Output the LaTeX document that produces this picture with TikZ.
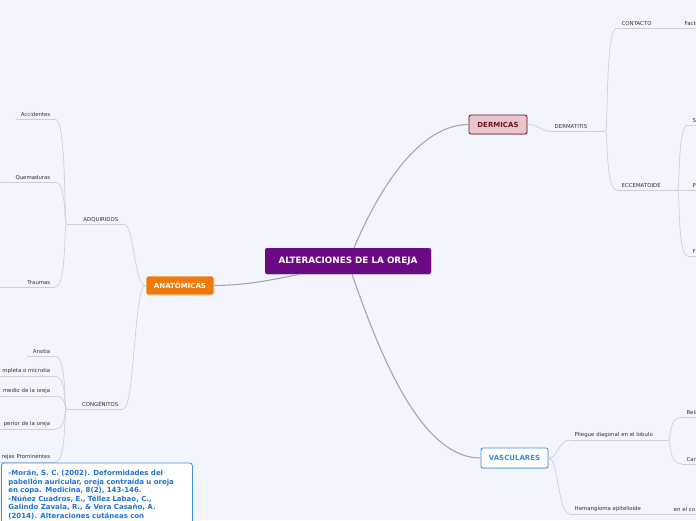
\documentclass[tikz,border=0pt]{standalone}
\usepackage{fontspec}
\setmainfont{DejaVu Sans}
\usetikzlibrary{shadows, positioning}

\definecolor{bgcol}{HTML}{F2F5FD}
\definecolor{purp}{HTML}{6B0A84}
\definecolor{orng}{HTML}{EE7A0E}
\definecolor{rosa}{HTML}{E8C6CC}
\definecolor{vino}{HTML}{6E1423}
\definecolor{azul}{HTML}{3A8DE3}
\definecolor{azultxt}{HTML}{1F72D3}
\definecolor{maingray}{HTML}{A4A6AE}
\definecolor{subgray}{HTML}{CBCFD8}
\definecolor{labtext}{HTML}{333338}

\begin{document}
\begin{tikzpicture}[x=1pt, y=-1pt,
    topic/.style={rounded corners=2pt, font=\bfseries\fontsize{7}{8}\selectfont,
        minimum height=19pt, inner sep=0pt,
        drop shadow={shadow xshift=0.5pt, shadow yshift=-0.8pt, opacity=0.25}},
    main/.style={draw=maingray, line width=1.1pt},
    link/.style={draw=subgray, line width=0.7pt},
    uline/.style={draw=subgray, line width=0.7pt},
    subL/.style={anchor=south west, align=left, text=labtext,
        font=\fontsize{5.4}{6}\selectfont, inner xsep=4.5pt, inner ysep=2pt,
        append after command={(\tikzlastnode.south west) edge[uline] (\tikzlastnode.south east)}},
    subR/.style={subL, anchor=south east, align=right},
    refbox/.style={draw=azul, line width=0.8pt, fill=white, rounded corners=3pt,
        anchor=north west, align=left, text=azultxt, inner xsep=7pt, inner ysep=7pt,
        text width=177pt, font=\bfseries\fontsize{7}{8.6}\selectfont}
]
    \useasboundingbox (0,0) rectangle (696,520);
    \fill[bgcol] (0,0) rectangle (696,520);
    \clip (0,0) rectangle (696,520);

    % Central topic and main branches
    \node[topic, fill=purp, text=white, font=\bfseries\fontsize{8.8}{10}\selectfont,
        minimum width=166pt, minimum height=26pt] (root) at (348,261) {ALTERACIONES DE LA OREJA};
    \node[topic, fill=orng, draw=white, line width=0.8pt, text=white, minimum width=68pt] (anat) at (180,285.5) {ANATÓMICAS};
    \node[topic, fill=rosa, draw=vino, line width=0.8pt, text=vino, minimum width=58pt] (dermicas) at (498,124.5) {DERMICAS};
    \node[topic, fill=white, draw=azul, line width=0.8pt, text=azul, minimum width=67pt, minimum height=20pt] (vasc) at (514.5,458) {VASCULARES};

    \draw[main] ([xshift=6pt]root.north) .. controls (385,175) and (425,124.5) .. (dermicas.west);
    \draw[main] ([xshift=4pt]root.south) .. controls (385,370) and (425,458) .. (vasc.west);
    \draw[main] (anat.east) .. controls (250,285) and (270,280) .. ([xshift=-48pt]root.south);

    % Dermicas
    \node[subL, text width=46pt] (dermat) at (550,131) {DERMATITIS};
    \node[subL, text width=54pt] (contacto) at (617,28) {CONTACTO};
    \node[subL, text width=20pt] (factores) at (680,28) {Facto};
    \node[subL, text width=51pt] (eccema) at (617,190) {ECCEMATOIDE};
    \node[subL, text width=20pt] (eccS) at (688,125) {S};
    \node[subL, text width=20pt] (eccP) at (688,190) {P};
    \node[subL, text width=20pt] (eccF) at (688,256) {F};

    \draw[link] (dermicas.east) .. controls +(12,0) and +(-10,0) .. (dermat.south west);
    \foreach \c in {contacto,eccema}
        \draw[link] (dermat.south east) .. controls +(3,0) and +(-12,0) .. (\c.south west);
    \foreach \c in {eccS,eccP,eccF}
        \draw[link] (eccema.south east) .. controls +(3,0) and +(-11,0) .. (\c.south west);

    % Anatomicas
    \node[subR, text width=47pt] (adq) at (123,224) {ADQUIRIDOS};
    \node[subR, text width=47pt] (cong) at (123,409) {CONGÉNITOS};
    \node[subR, text width=30pt] (accid) at (55,119) {Accidentes};
    \node[subR, text width=46pt] (quema) at (55,182) {Quemaduras};
    \node[subR, text width=46pt] (traum) at (55,287) {Traumas};
    \node[subR, text width=19pt] (anotia) at (55,356) {Anotia};
    \node[subR, text width=70pt] (microt) at (55,376) {mpleta o microtia};
    \node[subR, text width=70pt] (medio) at (55,396) {medio de la oreja};
    \node[subR, text width=70pt] (superior) at (55,429) {perior de la oreja};
    \node[subR, text width=70pt] (promin) at (55,462) {rejas Prominentes};

    \foreach \c in {adq,cong}
        \draw[link] (anat.west) .. controls +(-12,0) and +(12,0) .. (\c.south east);
    \foreach \c in {accid,quema,traum}
        \draw[link] (adq.south west) .. controls +(-3,0) and +(12,0) .. (\c.south east);
    \foreach \c in {anotia,microt,medio,superior,promin}
        \draw[link] (cong.south west) .. controls +(-3,0) and +(12,0) .. (\c.south east);

    % Vasculares
    \node[subL, text width=89pt] (pliegue) at (570,440) {Pliegue diagonal en el lobulo};
    \node[subL, text width=20pt] (rela) at (682,417) {Rela};
    \node[subL, text width=20pt] (carac) at (682,464) {Car};
    \node[subL, text width=90pt] (hemang) at (570,514) {Hemangioma epitelioide};
    \node[subL, text width=30pt] (enco) at (669,514) {en el co};

    \foreach \c in {pliegue,hemang}
        \draw[link] (vasc.east) .. controls +(10,0) and +(-12,0) .. (\c.south west);
    \foreach \c in {rela,carac}
        \draw[link] (pliegue.south east) .. controls +(3,0) and +(-14,0) .. (\c.south west);

    % Referencias
    \node[refbox] (refs) at (1,462.5) {-Morán, S. C. (2002). Deformidades del\\
        pabellón auricular, oreja contraída u oreja\\
        en copa. Medicina, 8(2), 143-146.\\
        -Núñez Cuadros, E., Téllez Labao, C.,\\
        Galindo Zavala, R., \& Vera Casaño, A.\\
        (2014). Alteraciones cutáneas con\\ \rule{0pt}{24pt}};
\end{tikzpicture}
\end{document}
